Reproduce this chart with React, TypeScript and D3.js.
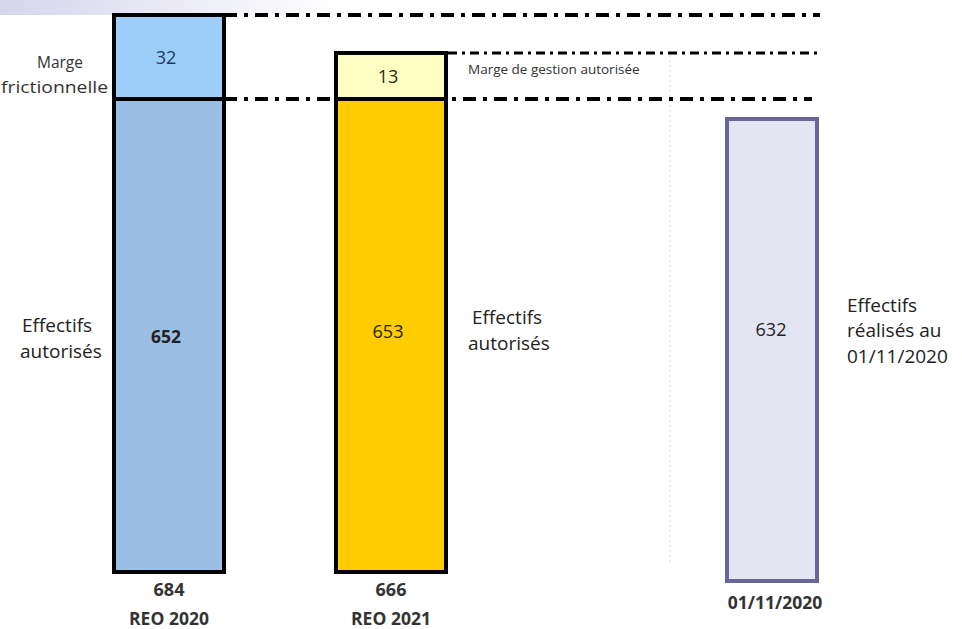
import * as d3 from 'd3';
import React from 'react';

// values
const categories = ['REO 2020', 'REO 2021'];
const authorised = [652, 653];
const margins = [32, 13];
const totals = [684, 666];
const marginLabels = ['Marge', 'frictionnelle', 'Marge de gestion autorisée'];
const actualLabel = '01/11/2020';
const actualValue = 632;

const W = 962;
const H = 629;
const FONT = '"Open Sans", Lato, sans-serif';

const App = () => {
    // the source is a schematic, not drawn to scale: piecewise scale
    const y = d3
        .scaleLinear()
        .domain([0, 632, 652, 666, 684])
        .range([572, 117, 99, 53, 15]);
    const yActual = d3.scaleLinear().domain([0, actualValue]).range([581, 119]);

    const x = d3
        .scaleOrdinal<string, number>()
        .domain([...categories, actualLabel])
        .range([169, 391, 772]);

    const bw = 110;

    const topColors = ['#9dcdf9', '#ffffc4'];
    const baseColors = ['#9bbfe4', '#ffcc00'];
    const marginText = ['#1f3a6a', '#2a2a1a'];

    const x0 = x(categories[0]);
    const x1 = x(categories[1]);
    const x3 = x(actualLabel);
    const dd = '13,7,4,7';

    return (
        <svg width={W} height={H} style={{ display: 'block', position: 'absolute', left: 0, top: 0 }} fontFamily={FONT}>
            <defs>
                <linearGradient id="band" x1="0" x2="1" y1="0" y2="0">
                    <stop offset="0" stopColor="#d6d5ec" />
                    <stop offset="0.6" stopColor="#eeeef7" />
                    <stop offset="1" stopColor="#ffffff" />
                </linearGradient>
            </defs>
            <rect x={0} y={0} width={340} height={15} fill="url(#band)" />

            {/* dotted separator */}
            <line x1={670} x2={670} y1={55} y2={565} stroke="#d8d8d8" strokeWidth={1} strokeDasharray="2,3" />

            {/* dash-dot reference lines */}
            <line x1={x0 + bw / 2} x2={820} y1={y(totals[0])} y2={y(totals[0])} stroke="#000" strokeWidth={4} strokeDasharray={dd} />
            <line x1={x1 + bw / 2 + 2} x2={820} y1={y(totals[1])} y2={y(totals[1])} stroke="#000" strokeWidth={3} strokeDasharray="9,5,3,5" />
            <line x1={x0 + bw / 2} x2={x1 - bw / 2} y1={y(authorised[0])} y2={y(authorised[0])} stroke="#000" strokeWidth={4} strokeDasharray={dd} />
            <line x1={x1 + bw / 2 + 6} x2={812} y1={y(authorised[0])} y2={y(authorised[0])} stroke="#000" strokeWidth={4} strokeDasharray="4,7,13,7" />

            {categories.map((c, i) => {
                const cx = x(c);
                const yTop = y(totals[i]);
                const ySplit = y(authorised[0]);
                return (
                    <g key={c}>
                        <rect x={cx - bw / 2} y={ySplit} width={bw} height={y(0) - ySplit} fill={baseColors[i]} />
                        <rect x={cx - bw / 2} y={yTop} width={bw} height={ySplit - yTop} fill={topColors[i]} />
                        <rect x={cx - bw / 2} y={yTop} width={bw} height={y(0) - yTop} fill="none" stroke="#000" strokeWidth={4} />
                        <line x1={cx - bw / 2} x2={cx + bw / 2} y1={ySplit} y2={ySplit} stroke="#000" strokeWidth={4} />
                        <text x={cx - 3} y={(yTop + ySplit) / 2 + 7} textAnchor="middle" fontSize={18} fill={marginText[i]}>
                            {margins[i]}
                        </text>
                        <text x={cx - 3} y={i === 0 ? 343 : 338} textAnchor="middle" fontSize={i === 0 ? 17.5 : 18} fontWeight={i === 0 ? 'bold' : 'normal'} fill={i === 0 ? '#222' : '#2a2000'}>
                            {authorised[i]}
                        </text>
                        <text x={cx} y={596} textAnchor="middle" fontSize={18} fontWeight="bold" fill="#333">
                            {totals[i]}
                        </text>
                        <text x={cx} y={625} textAnchor="middle" fontSize={17.5} fontWeight="bold" fill="#333">
                            {c}
                        </text>
                    </g>
                );
            })}

            {/* realised bar */}
            <rect
                x={x3 - 45}
                y={yActual(actualValue)}
                width={90}
                height={yActual(0) - yActual(actualValue)}
                fill="#e4e5f2"
                stroke="#6a6597"
                strokeWidth={4}
            />
            <text x={x3 - 1} y={336} textAnchor="middle" fontSize={18} fill="#222">
                {actualValue}
            </text>
            <text x={x3 + 3} y={609} textAnchor="middle" fontSize={17.5} fontWeight="bold" fill="#333">
                {actualLabel}
            </text>

            {/* side annotations */}
            <text x={60} y={68} textAnchor="middle" fontSize={15.5} fill="#333">
                {marginLabels[0]}
            </text>
            <text x={1} y={93} fontSize={16.5} fill="#333" textLength={107} lengthAdjust="spacingAndGlyphs">
                {marginLabels[1]}
            </text>
            <text x={468} y={74} fontSize={13.5} fill="#333">
                {marginLabels[2]}
            </text>
            <text fontSize={19} fill="#222">
                <tspan x={22} y={332}>Effectifs</tspan>
                <tspan x={20} y={358}>autorisés</tspan>
            </text>
            <text fontSize={19} fill="#222">
                <tspan x={472} y={324}>Effectifs</tspan>
                <tspan x={468} y={350}>autorisés</tspan>
            </text>
            <text fontSize={19} fill="#222">
                <tspan x={847} y={312}>Effectifs</tspan>
                <tspan x={847} y={337}>réalisés au</tspan>
                <tspan x={847} y={363}>01/11/2020</tspan>
            </text>
        </svg>
    );
};

export default App;
